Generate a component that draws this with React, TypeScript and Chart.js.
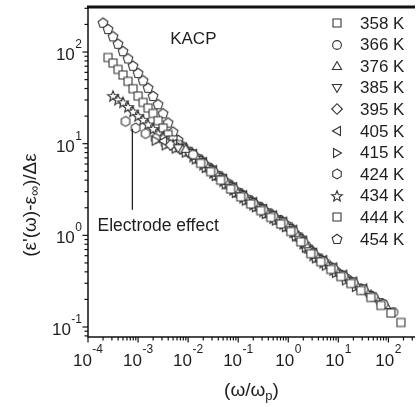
import { useEffect, useRef } from "react";
import { Chart, registerables } from "chart.js";
Chart.register(...registerables);

// ---------- data ----------
const temperatures = ["358 K", "366 K", "376 K", "385 K", "395 K", "405 K", "415 K", "424 K", "434 K", "444 K", "454 K"];

const k358 = [[0.01778,6.1],[0.02818,4.95],[0.04467,4.0],[0.07079,3.2],[0.1122,2.63],[0.1778,2.2],[0.2818,1.86],[0.4467,1.57],[0.7079,1.33],[1.122,1.1],[1.778,0.85],[2.818,0.63],[4.467,0.515],[7.079,0.425],[11.22,0.355],[17.78,0.298],[28.18,0.25],[44.67,0.21],[70.79,0.172],[112.2,0.142],[177.8,0.112]];
const k366 = [[0.01259,7.6],[0.01995,6.15],[0.03162,5.02],[0.05012,4.08],[0.07943,3.27],[0.1259,2.69],[0.1995,2.25],[0.3162,1.91],[0.5012,1.62],[0.7943,1.38],[1.259,1.12],[1.995,0.85],[3.162,0.635],[5.012,0.525],[7.943,0.437],[12.59,0.362],[19.95,0.306],[31.62,0.257],[50.12,0.214],[79.43,0.178],[125.9,0.145]];
const k376 = [[0.008913,8.8],[0.01413,7.4],[0.02239,6.0],[0.03548,4.85],[0.05623,3.95],[0.08913,3.18],[0.1413,2.62],[0.2239,2.24],[0.3548,1.87],[0.5623,1.6],[0.8913,1.35],[1.413,1.07],[2.239,0.8],[3.548,0.62],[5.623,0.512],[8.913,0.427],[14.13,0.355],[22.39,0.3],[35.48,0.252],[56.23,0.21],[89.13,0.174]];
const k385 = [[0.00631,8.9],[0.01,7.9],[0.01585,6.6],[0.02512,5.3],[0.03981,4.32],[0.0631,3.47],[0.1,2.81],[0.1585,2.35],[0.2512,1.99],[0.3981,1.68],[0.631,1.43],[1,1.2],[1.585,0.93],[2.512,0.69],[3.981,0.55],[6.31,0.457],[10,0.38],[15.85,0.317],[25.12,0.268],[39.81,0.224],[63.1,0.187]];
const k395 = [[0.004467,9.7],[0.007079,8.8],[0.01122,7.8],[0.01778,6.4],[0.02818,5.2],[0.04467,4.15],[0.07079,3.4],[0.1122,2.77],[0.1778,2.28],[0.2818,1.96],[0.4467,1.64],[0.7079,1.41],[1.122,1.15],[1.778,0.9],[2.818,0.67],[4.467,0.54],[7.079,0.45],[11.22,0.37],[17.78,0.315],[28.18,0.26],[44.67,0.222]];
const k405 = [[0.003162,10.7],[0.005012,9.9],[0.007943,9.1],[0.01259,7.75],[0.01995,6.3],[0.03162,5.15],[0.05012,4.15],[0.07943,3.36],[0.1259,2.75],[0.1995,2.31],[0.3162,1.95],[0.5012,1.65],[0.7943,1.41],[1.259,1.15],[1.995,0.875],[3.162,0.645],[5.012,0.537],[7.943,0.447],[12.59,0.372],[19.95,0.313],[31.62,0.263]];
const k415 = [[0.002239,10.8],[0.003548,9.6],[0.005623,8.85],[0.008913,8.0],[0.01413,6.75],[0.02239,5.45],[0.03548,4.45],[0.05623,3.6],[0.08913,2.9],[0.1413,2.4],[0.2239,2.03],[0.3548,1.71],[0.5623,1.45],[0.8913,1.23],[1.413,0.975],[2.239,0.735],[3.548,0.562],[5.623,0.468],[8.913,0.39],[14.13,0.323],[22.39,0.274]];
const k424 = [[0.0005623,17.5],[0.0008913,14.8],[0.001413,12.9],[0.002239,11.4],[0.003548,10.1],[0.005623,9.2],[0.008913,8.3],[0.01413,7.1],[0.02239,5.75],[0.03548,4.6],[0.05623,3.8],[0.08913,3.02],[0.1413,2.53],[0.2239,2.12],[0.3548,1.8],[0.5623,1.51],[0.8913,1.3],[1.413,1.01],[2.239,0.77],[3.548,0.585],[5.623,0.495],[8.913,0.405],[14.13,0.342]];
const k434 = [[0.0003162,33.1],[0.0003981,30.2],[0.0005012,28.2],[0.000631,25.1],[0.0007943,22.4],[0.001,20.0],[0.001259,18.2],[0.001585,16.2],[0.001995,14.5],[0.002512,12.9],[0.003162,11.7],[0.005012,9.77],[0.007943,8.81],[0.01259,7.24],[0.01995,5.89],[0.03162,4.79],[0.05012,3.89],[0.07943,3.13],[0.1259,2.57],[0.1995,2.16],[0.3162,1.82],[0.5012,1.54],[0.7943,1.32],[1.259,1.075],[1.995,0.813],[3.162,0.603],[5.012,0.501],[7.943,0.417]];
const k444 = [[0.0002512,87.1],[0.0003162,75.9],[0.0003981,64.6],[0.0005012,56.2],[0.000631,47.9],[0.0007943,39.8],[0.001,33.1],[0.001259,28.2],[0.001585,24.5],[0.001995,21.4],[0.002512,17.8],[0.003162,14.8],[0.003981,12.6],[0.005012,11.0],[0.00631,9.77],[0.01,8.22],[0.01585,6.8],[0.02512,5.45],[0.03981,4.45],[0.0631,3.58],[0.1,2.9],[0.1585,2.42],[0.2512,2.05],[0.3981,1.73],[0.631,1.47],[1,1.24],[1.585,0.96],[2.512,0.71],[3.981,0.565]];
const k454 = [[0.0001995,209],[0.0002512,178],[0.0003162,148],[0.0003981,123],[0.0005012,102],[0.000631,85.1],[0.0007943,70.8],[0.001,58.9],[0.001259,49.0],[0.001585,40.7],[0.001995,33.1],[0.002512,26.9],[0.003162,21.4],[0.003981,17.0],[0.005012,13.5],[0.00631,11.0],[0.007943,9.33],[0.01122,8.1],[0.01778,6.68],[0.02818,5.4],[0.04467,4.39],[0.07079,3.53],[0.1122,2.88],[0.1778,2.41],[0.2818,2.04],[0.4467,1.73],[0.7079,1.47],[1.122,1.21],[1.778,0.93],[2.818,0.69]];

const seriesData = [k358, k366, k376, k385, k395, k405, k415, k424, k434, k444, k454];

const xTickExps = [-4, -3, -2, -1, 0, 1, 2];
const yTickExps = [-1, 0, 1, 2];
const minorMultipliers = [2, 3, 4, 5, 6, 7, 8, 9];

const xRange = [1e-4, 340];
const yRange = [0.0778, 310];

// annotation anchors (data coordinates)
const kacpAt = [0.0127, 138];
const electrodeTextAt = [1.55e-4, 1.26];
const arrowFrom = [7.7e-4, 1.9];
const arrowTo = [7.7e-4, 14.5];

// ---------- styles ----------
const FONT = '"Liberation Sans", Arial, Helvetica, sans-serif';
const INK = "#1e1e1e";
const MARK = "#333333";
const markerKinds = ["square", "circle", "triUp", "triDown", "diamond", "triLeft", "triRight", "hexagon", "star", "square", "pentagon"];

function makeMarker(kind: string): HTMLCanvasElement {
  const s = 14;
  const c = document.createElement("canvas");
  c.width = s;
  c.height = s;
  const g = c.getContext("2d")!;
  const m = s / 2;
  g.lineWidth = 1.1;
  g.strokeStyle = MARK;
  g.fillStyle = "#ffffff";
  g.lineJoin = "miter";
  g.beginPath();
  const poly = (n: number, r: number, rot: number, cx = m, cy = m) => {
    for (let i = 0; i < n; i++) {
      const a = rot + (i * 2 * Math.PI) / n;
      const px = cx + r * Math.cos(a);
      const py = cy + r * Math.sin(a);
      if (i === 0) g.moveTo(px, py);
      else g.lineTo(px, py);
    }
    g.closePath();
  };
  switch (kind) {
    case "square":
      g.rect(m - 4, m - 4, 8, 8);
      break;
    case "circle":
      g.arc(m, m, 4.4, 0, Math.PI * 2);
      break;
    case "triUp":
      poly(3, 5.3, -Math.PI / 2, m, m + 0.8);
      break;
    case "triDown":
      poly(3, 5.3, Math.PI / 2, m, m - 0.8);
      break;
    case "triLeft":
      poly(3, 5.3, Math.PI, m + 0.8, m);
      break;
    case "triRight":
      poly(3, 5.3, 0, m - 0.8, m);
      break;
    case "diamond":
      poly(4, 5.3, 0);
      break;
    case "hexagon":
      poly(6, 4.9, -Math.PI / 2);
      break;
    case "pentagon":
      poly(5, 5.1, -Math.PI / 2, m, m + 0.4);
      break;
    case "star": {
      for (let i = 0; i < 10; i++) {
        const r = i % 2 === 0 ? 5.6 : 2.4;
        const a = -Math.PI / 2 + (i * Math.PI) / 5;
        const px = m + r * Math.cos(a);
        const py = m + 0.5 + r * Math.sin(a);
        if (i === 0) g.moveTo(px, py);
        else g.lineTo(px, py);
      }
      g.closePath();
      break;
    }
  }
  g.fill();
  g.stroke();
  return c;
}

function drawPow(ctx: CanvasRenderingContext2D, exp: number, x: number, yBase: number, align: "center" | "right", baseSize: number, expSize: number, raise: number) {
  const es = String(exp);
  ctx.font = `${baseSize}px ${FONT}`;
  const wb = ctx.measureText("10").width;
  ctx.font = `${expSize}px ${FONT}`;
  const we = ctx.measureText(es).width;
  const total = wb + we + 0.5;
  const left = align === "center" ? x - total / 2 : x - total;
  ctx.textAlign = "left";
  ctx.textBaseline = "alphabetic";
  ctx.font = `${baseSize}px ${FONT}`;
  ctx.fillText("10", left, yBase);
  ctx.font = `${expSize}px ${FONT}`;
  ctx.fillText(es, left + wb + 0.5, yBase - raise);
}

function makeDecorPlugin(markers: HTMLCanvasElement[]) {
  return {
    id: "decor",
    afterDraw(chart: any) {
      const { ctx, chartArea: a } = chart;
      const xs = chart.scales.x;
      const ys = chart.scales.y;
      ctx.save();
      ctx.fillStyle = INK;
      ctx.strokeStyle = "#111";

      // axis lines
      ctx.lineWidth = 1.5;
      ctx.beginPath();
      ctx.moveTo(a.left, a.top);
      ctx.lineTo(a.left, a.bottom);
      ctx.lineTo(a.right, a.bottom);
      ctx.stroke();
      ctx.lineWidth = 3;
      ctx.beginPath();
      ctx.moveTo(a.left - 1, a.top);
      ctx.lineTo(a.right, a.top);
      ctx.stroke();

      // ticks
      ctx.lineWidth = 1.2;
      const xmin = xs.min, xmax = xs.max, ymin = ys.min, ymax = ys.max;
      for (let e = xTickExps[0]; e <= xTickExps[xTickExps.length - 1]; e++) {
        const vals = [{ v: Math.pow(10, e), major: true }, ...minorMultipliers.map((m) => ({ v: m * Math.pow(10, e), major: false }))];
        for (const t of vals) {
          if (t.v < xmin * 0.999 || t.v > xmax) continue;
          const px = xs.getPixelForValue(t.v);
          ctx.beginPath();
          ctx.moveTo(px, a.bottom);
          ctx.lineTo(px, a.bottom + (t.major ? 5.5 : 3.5));
          ctx.stroke();
        }
      }
      for (let e = yTickExps[0] - 1; e <= yTickExps[yTickExps.length - 1]; e++) {
        const vals = [{ v: Math.pow(10, e), major: true }, ...minorMultipliers.map((m) => ({ v: m * Math.pow(10, e), major: false }))];
        for (const t of vals) {
          if (t.v < ymin || t.v > ymax) continue;
          const py = ys.getPixelForValue(t.v);
          ctx.beginPath();
          ctx.moveTo(a.left, py);
          ctx.lineTo(a.left - (t.major ? 5.5 : 3.5), py);
          ctx.stroke();
        }
      }

      // tick labels
      for (const e of xTickExps) {
        const px = xs.getPixelForValue(Math.pow(10, e));
        drawPow(ctx, e, px, a.bottom + 29, "center", 17, 12, 13);
      }
      for (const e of yTickExps) {
        const py = ys.getPixelForValue(Math.pow(10, e));
        drawPow(ctx, e, a.left - 6, py + 8, "right", 17, 12, 12);
      }

      // x title: (ω/ωp)
      {
        const big = `19px ${FONT}`;
        const small = `13px ${FONT}`;
        ctx.font = big;
        const w1 = ctx.measureText("(ω/ω").width;
        const w3 = ctx.measureText(")").width;
        ctx.font = small;
        const w2 = ctx.measureText("p").width;
        const total = w1 + w2 + w3;
        const cx = (a.left + a.right) / 2;
        const base = a.bottom + 59;
        const x0 = cx - total / 2;
        ctx.textAlign = "left";
        ctx.textBaseline = "alphabetic";
        ctx.font = big;
        ctx.fillText("(ω/ω", x0, base);
        ctx.font = small;
        ctx.fillText("p", x0 + w1, base + 4);
        ctx.font = big;
        ctx.fillText(")", x0 + w1 + w2, base);
      }

      // y title: (ε'(ω)-ε∞)/Δε
      {
        const big = `19px ${FONT}`;
        const small = `14px ${FONT}`;
        ctx.font = big;
        const p1 = "(ε'(ω)-ε";
        const p3 = ")/Δε";
        const w1 = ctx.measureText(p1).width;
        const w3 = ctx.measureText(p3).width;
        ctx.font = small;
        const w2 = ctx.measureText("∞").width;
        const total = w1 + w2 + w3;
        ctx.save();
        ctx.translate(31, (a.top + a.bottom) / 2 + 33);
        ctx.rotate(-Math.PI / 2);
        ctx.textAlign = "left";
        ctx.textBaseline = "middle";
        const x0 = -total / 2;
        ctx.font = big;
        ctx.fillText(p1, x0, 0);
        ctx.font = small;
        ctx.fillText("∞", x0 + w1, 4);
        ctx.font = big;
        ctx.fillText(p3, x0 + w1 + w2, 0);
        ctx.restore();
      }

      // annotations
      ctx.font = `17px ${FONT}`;
      ctx.textAlign = "center";
      ctx.textBaseline = "middle";
      ctx.fillText("KACP", xs.getPixelForValue(kacpAt[0]), ys.getPixelForValue(kacpAt[1]));
      ctx.textAlign = "left";
      ctx.font = `17.5px ${FONT}`;
      ctx.fillText("Electrode effect", xs.getPixelForValue(electrodeTextAt[0]), ys.getPixelForValue(electrodeTextAt[1]));
      ctx.lineWidth = 1.3;
      ctx.strokeStyle = "#222";
      const ax = xs.getPixelForValue(arrowFrom[0]);
      ctx.beginPath();
      ctx.moveTo(ax, ys.getPixelForValue(arrowFrom[1]));
      ctx.lineTo(ax, ys.getPixelForValue(arrowTo[1]));
      ctx.stroke();

      // legend
      ctx.font = `17px ${FONT}`;
      ctx.textAlign = "left";
      ctx.textBaseline = "middle";
      ctx.fillStyle = INK;
      temperatures.forEach((label, i) => {
        const cy = a.top + 16 + i * 21.6;
        const mk = markers[i];
        ctx.drawImage(mk, Math.round(a.right - 78 - mk.width / 2), Math.round(cy - mk.height / 2));
        ctx.fillText(label, a.right - 55, cy + 1);
      });
      ctx.restore();
    },
  };
}

export default function App() {
  const ref = useRef<HTMLCanvasElement>(null);
  useEffect(() => {
    const markers = markerKinds.map(makeMarker);
    const datasets = seriesData.map((s, i) => ({
      label: temperatures[i],
      data: s.map(([x, y]) => ({ x, y })),
      pointStyle: markers[i],
      pointRadius: 4,
      pointHoverRadius: 4,
      showLine: false,
    }));
    const chart = new Chart(ref.current!, {
      type: "scatter",
      data: { datasets },
      options: {
        responsive: false,
        animation: false,
        devicePixelRatio: 1,
        events: [],
        layout: { padding: { left: 88, top: 7, right: 0, bottom: 70 } },
        plugins: { legend: { display: false }, tooltip: { enabled: false } },
        scales: {
          x: { type: "logarithmic", display: false, min: xRange[0], max: xRange[1], bounds: "data" },
          y: { type: "logarithmic", display: false, min: yRange[0], max: yRange[1], bounds: "data" },
        },
      },
      plugins: [makeDecorPlugin(markers)],
    } as any);
    return () => chart.destroy();
  }, []);
  return (
    <div style={{ position: "absolute", left: 0, top: 0, width: 420, height: 407, background: "#ffffff" }}>
      <canvas ref={ref} width={420} height={407} style={{ display: "block", width: 420, height: 407 }} />
    </div>
  );
}
